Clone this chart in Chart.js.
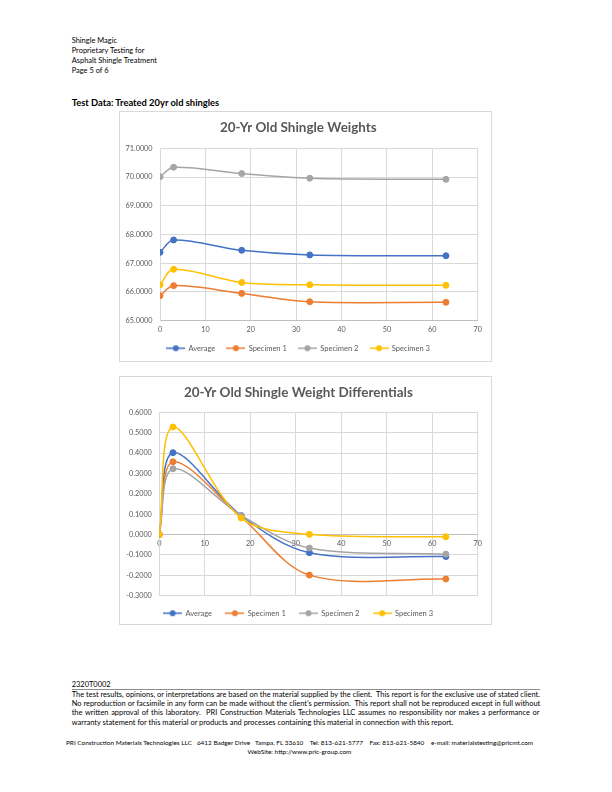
<!DOCTYPE html>
<html><head><meta charset="utf-8">
<script src="https://cdn.jsdelivr.net/npm/chart.js@4/dist/chart.umd.min.js"></script>
<style>
html,body{margin:0;padding:0;background:#fff;width:612px;height:792px;overflow:hidden;}
body{position:relative;font-family:Lato,"Liberation Sans",sans-serif;color:#000;}
.t{position:absolute;white-space:pre;height:20px;line-height:20px;}
.box{position:absolute;border:1px solid #D9D9D9;box-sizing:border-box;}
canvas{position:absolute;}
.rule{position:absolute;background:#8c8c8c;}
</style></head><body>
<div class="t" id="h1">Shingle Magic</div>
<div class="t" id="h2">Proprietary Testing for</div>
<div class="t" id="h3">Asphalt Shingle Treatment</div>
<div class="t" id="h4">Page 5 of 6</div>
<div class="t" id="hb" style="font-weight:bold">Test Data: Treated 20yr old shingles</div>

<div class="box" style="left:119px;top:111px;width:373px;height:251px"></div>
<canvas id="c1" width="373" height="251" style="left:119px;top:111px"></canvas>
<div class="box" style="left:119px;top:376px;width:373px;height:249px"></div>
<canvas id="c2" width="373" height="251" style="left:119px;top:376px"></canvas>

<div class="t" id="f0">2320T0002</div>
<div class="rule" style="left:71.7px;top:688.5px;width:468.3px;height:1.6px"></div>
<div class="t" id="p1">The test results, opinions, or interpretations are based on the material supplied by the client.  This report is for the exclusive use of stated client.</div>
<div class="t" id="p2">No reproduction or facsimile in any form can be made without the client’s permission.  This report shall not be reproduced except in full without</div>
<div class="t" id="p3">the written approval of this laboratory.  PRI Construction Materials Technologies LLC assumes no responsibility nor makes a performance or</div>
<div class="t" id="p4">warranty statement for this material or products and processes containing this material in connection with this report.</div>
<div class="t" id="a1">PRI Construction Materials Technologies LLC   6412 Badger Drive   Tampa, FL 33610    Tel: 813-621-5777    Fax: 813-621-5840    e-mail: materialstesting@pricmt.com</div>
<div class="t" id="a2">WebSite: http://www.pric-group.com</div>

<script>
// ---------------- data ----------------
const days = [0, 3, 18, 33, 63];
const seriesNames = ['Average', 'Specimen 1', 'Specimen 2', 'Specimen 3'];
const weightAverage   = [67.38, 67.81, 67.45, 67.29, 67.26];
const weightSpecimen1 = [65.87, 66.22, 65.95, 65.66, 65.64];
const weightSpecimen2 = [70.01, 70.34, 70.12, 69.96, 69.92];
const weightSpecimen3 = [66.25, 66.79, 66.33, 66.25, 66.23];
const diffAverage   = [0, 0.402, 0.093, -0.089, -0.108];
const diffSpecimen1 = [0, 0.357, 0.086, -0.199, -0.218];
const diffSpecimen2 = [0, 0.323, 0.094, -0.066, -0.096];
const diffSpecimen3 = [0, 0.528, 0.081, 0.001, -0.011];
const xTickRange = [0, 70, 10];
const weightTickRange = [65, 71, 1];
const diffTickRange = [-0.3, 0.6, 0.1];
const chartTitles = ['20-Yr Old Shingle Weights', '20-Yr Old Shingle Weight Differentials'];
const seriesColors = ['#4472C4', '#ED7D31', '#A5A5A5', '#FFC000'];

// ---------------- text fitting ----------------
const FAM = 'Lato';
const mctx = document.createElement('canvas').getContext('2d');
function fitSize(text, weight, target) {
  mctx.font = weight + ' 100px ' + FAM;
  return 100 * target / mctx.measureText(text).width;
}
function place(id, x, cy, size, align) {
  const el = document.getElementById(id);
  el.style.fontSize = size + 'px';
  el.style.top = (cy - 10) + 'px';
  if (align === 'center') {
    el.style.left = (x - el.offsetWidth / 2) + 'px';
  } else el.style.left = x + 'px';
  return el;
}
const hs = fitSize('Asphalt Shingle Treatment', 'normal', 85.6);
place('h1', 71.7, 41, hs); place('h2', 71.7, 51, hs); place('h3', 71.7, 61, hs); place('h4', 71.7, 71, hs);
place('hb', 71.7, 102.7, fitSize('Test Data: Treated 20yr old shingles', 'bold', 148));
const ps = fitSize(document.getElementById('p4').textContent, 'normal', 383.3);
place('f0', 71.7, 685, ps);
['p1', 'p2', 'p3'].forEach((id, i) => {
  const el = place(id, 71.7, [695, 704.3, 713.3][i], ps);
  const spaces = (el.textContent.match(/ /g) || []).length;
  el.style.wordSpacing = ((468.3 - el.offsetWidth) / spaces) + 'px';
});
place('p4', 71.7, 722.7, ps);
const as = fitSize(document.getElementById('a1').textContent, 'normal', 469);
place('a1', 299.5, 742.7, as, 'center');
place('a2', 299.5, 751.5, as, 'center');

// ---------------- charts ----------------
const TXT = '#595959';
const tickSize = fitSize('71.0000', 'normal', 27);
const legendSize = fitSize('Average', 'normal', 26.7);

function legendIcon(color) {
  const c = document.createElement('canvas');
  c.width = 19; c.height = 8;
  const g = c.getContext('2d');
  g.strokeStyle = color; g.lineWidth = 1.5;
  g.beginPath(); g.moveTo(0, 4); g.lineTo(19, 4); g.stroke();
  g.fillStyle = color; g.beginPath(); g.arc(9.5, 4, 3, 0, Math.PI * 2); g.fill();
  return c;
}
const icons = seriesColors.map(legendIcon);

function buildDatasets(seriesList) {
  return seriesList.map((vals, i) => ({
    label: seriesNames[i],
    data: days.map((d, k) => ({x: d, y: vals[k]})),
    borderColor: seriesColors[i],
    backgroundColor: seriesColors[i],
    pointBackgroundColor: seriesColors[i],
    pointBorderColor: seriesColors[i],
    pointRadius: 3,
    pointBorderWidth: 1,
    borderWidth: 1.5,
    tension: 0.33,
    fill: false,
    order: seriesList.length - 1 - i
  }));
}

function makeChart(id, title, seriesList, yRange, geom) {
  const W = 373, H = 251;
  const ts = fitSize(title, 'bold', geom.titleWidth);
  const legendPad = geom.legendPad;
  const legendH = legendSize + legendPad + 10;
  const xAtZero = geom.xAtZero;
  return new Chart(document.getElementById(id), {
    type: 'line',
    data: {datasets: buildDatasets(seriesList)},
    options: {
      responsive: false, animation: false, devicePixelRatio: 1,
      layout: {padding: {left: 0, right: W - geom.plotRight, top: 0, bottom: 0}},
      plugins: {
        tooltip: {enabled: false},
        title: {
          display: true, text: title, color: TXT,
          font: {family: FAM, size: ts, weight: 'bold', lineHeight: 1.2},
          padding: {top: geom.titleCenter - 0.6 * ts, bottom: geom.plotTop - geom.titleCenter - 0.6 * ts}
        },
        legend: {
          display: true, position: 'bottom',
          labels: {
            color: TXT, usePointStyle: true, pointStyleWidth: 18,
            padding: legendPad,
            font: {family: FAM, size: legendSize},
            sort: (a, b) => a.datasetIndex - b.datasetIndex,
            generateLabels: (chart) => {
              const items = Chart.defaults.plugins.legend.labels.generateLabels(chart);
              items.forEach(it => { it.pointStyle = icons[it.datasetIndex]; });
              return items;
            }
          }
        }
      },
      scales: {
        x: {
          type: 'linear', min: xTickRange[0], max: xTickRange[1],
          position: xAtZero ? {y: 0} : 'bottom',
          ticks: {stepSize: xTickRange[2], color: TXT, padding: 5, font: {family: FAM, size: tickSize}, maxRotation: 0},
          grid: {color: '#D9D9D9', drawTicks: false},
          border: {color: '#BFBFBF', width: 1},
          afterFit: (s) => { if (!xAtZero) s.height = H - legendH - geom.plotBottom; }
        },
        y: {
          type: 'linear', min: yRange[0], max: yRange[1],
          ticks: {stepSize: yRange[2], color: TXT, padding: 7.5, font: {family: FAM, size: tickSize},
                  callback: (v) => Number(v).toFixed(4)},
          grid: {color: '#D9D9D9', drawTicks: false},
          border: {color: '#D9D9D9'},
          afterFit: (s) => { s.width = geom.plotLeft; }
        }
      }
    }
  });
}

makeChart('c1', chartTitles[0],
  [weightAverage, weightSpecimen1, weightSpecimen2, weightSpecimen3], weightTickRange,
  {titleWidth: 157, titleCenter: 17, plotTop: 37.3, plotLeft: 41, plotRight: 358.7, plotBottom: 209.7, legendPad: 11.7, xAtZero: false});

makeChart('c2', chartTitles[1],
  [diffAverage, diffSpecimen1, diffSpecimen2, diffSpecimen3], diffTickRange,
  {titleWidth: 229, titleCenter: 16.7, plotTop: 36.3, plotLeft: 40.3, plotRight: 358.7, plotBottom: 219.7,
   legendPad: 251 - 219.7 - legendSize - 10, xAtZero: true});
</script>
</body></html>
